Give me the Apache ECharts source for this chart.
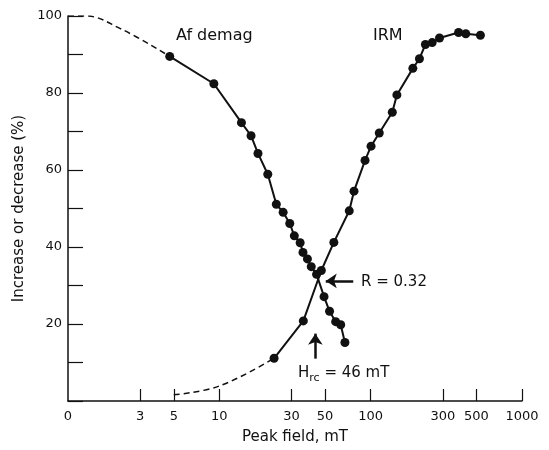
<!DOCTYPE html>
<html>
<head>
<meta charset="utf-8">
<script src="https://cdn.jsdelivr.net/npm/echarts@6/dist/echarts.min.js"></script>
<style>
  html, body { margin: 0; padding: 0; background: #fff; }
  #chart { width: 549px; height: 450px; }
</style>
</head>
<body>
<div id="chart"></div>
<script>
  // Af demag (decreasing curve), field in mT, remaining %
  var afField = [4.7, 9.2, 14.0, 16.2, 18.0, 20.9, 23.8, 26.4, 29.2, 31.3, 34.2, 35.7, 38.2, 40.5, 43.9, 49.2, 53.5, 58.7, 63.4, 67.6];
  var afValue = [89.5, 82.4, 72.3, 68.9, 64.3, 58.9, 51.1, 49.0, 46.1, 42.9, 41.1, 38.6, 36.9, 34.9, 32.9, 27.1, 23.3, 20.6, 19.8, 15.2];
  // dashed extrapolation of the Af curve
  var afDashField = [1, 1.3, 2.2, 4.7];
  var afDashValue = [100, 100, 96.8, 89.5];

  // IRM acquisition (increasing curve)
  var irmField = [23.0, 35.9, 47.2, 57.1, 72.2, 77.6, 91.8, 100.6, 114, 139, 149, 190, 210, 230, 255, 285, 381, 425, 531];
  var irmValue = [11.1, 20.8, 33.9, 41.2, 49.4, 54.5, 62.5, 66.2, 69.6, 75.0, 79.5, 86.4, 88.9, 92.6, 93.1, 94.3, 95.7, 95.4, 95.0];
  var irmDashField = [5, 10, 23.0];
  var irmDashValue = [1.6, 3.9, 11.1];

  var xTicks = [3, 5, 10, 30, 50, 100, 300, 500, 1000];
  var xLabels = [1, 3, 5, 10, 30, 50, 100, 300, 500, 1000];

  // annotation arrows (data coords)
  var rArrow = [[76.7, 31.2], [50.5, 31.2]];
  var hArrow = [[43.1, 11.0], [43.1, 17.5]];

  function pairs(xs, ys) {
    return xs.map(function (x, i) { return [x, ys[i]]; });
  }

  var font = "DejaVu Sans";
  var chart = echarts.init(document.getElementById("chart"));

  chart.setOption({
    animation: false,
    backgroundColor: "#fff",
    grid: { left: 68, right: 27, top: 16, bottom: 46 },
    xAxis: {
      type: "log",
      logBase: 10,
      min: 1,
      max: 1000,
      name: "Peak field, mT",
      nameLocation: "middle",
      nameGap: 29,
      nameTextStyle: { fontFamily: font, fontSize: 15, color: "#111" },
      axisLine: { show: true, lineStyle: { color: "#111", width: 1.5 } },
      axisTick: { show: true, inside: true, length: 12, customValues: xTicks, lineStyle: { color: "#111", width: 1.2 } },
      axisLabel: {
        customValues: xLabels,
        margin: 9,
        fontFamily: font,
        fontSize: 13,
        color: "#111",
        formatter: function (v) { return v === 1 ? "0" : String(v); }
      },
      splitLine: { show: false },
      minorTick: { show: false }
    },
    yAxis: {
      type: "value",
      min: 0,
      max: 100,
      interval: 10,
      name: "Increase or decrease (%)",
      nameLocation: "middle",
      nameGap: 40,
      nameTextStyle: { fontFamily: font, fontSize: 15, color: "#111" },
      axisLine: { show: true, lineStyle: { color: "#111", width: 1.5 } },
      axisTick: { show: true, inside: true, length: 15, lineStyle: { color: "#111", width: 1.2 } },
      axisLabel: {
        margin: 6,
        fontFamily: font,
        fontSize: 13,
        color: "#111",
        formatter: function (v) { return v > 0 && v % 20 === 0 ? String(v) : ""; }
      },
      splitLine: { show: false }
    },
    series: [
      {
        name: "Af demag dashed",
        type: "line",
        data: pairs(afDashField, afDashValue),
        smooth: 0.4,
        symbol: "none",
        lineStyle: { color: "#111", width: 1.5, type: [6, 4] },
        silent: true
      },
      {
        name: "Af demag",
        type: "line",
        data: pairs(afField, afValue),
        symbol: "circle",
        symbolSize: 9,
        itemStyle: { color: "#111" },
        lineStyle: { color: "#111", width: 2 },
        markLine: {
          silent: true,
          symbol: ["none", "arrow"],
          symbolSize: 11,
          label: { show: false },
          lineStyle: { color: "#111", width: 2.5, type: "solid" },
          data: [
            [{ coord: rArrow[0] }, { coord: rArrow[1] }],
            [{ coord: hArrow[0] }, { coord: hArrow[1] }]
          ]
        }
      },
      {
        name: "IRM dashed",
        type: "line",
        data: pairs(irmDashField, irmDashValue),
        smooth: 0.4,
        symbol: "none",
        lineStyle: { color: "#111", width: 1.5, type: [6, 4] },
        silent: true
      },
      {
        name: "IRM",
        type: "line",
        data: pairs(irmField, irmValue),
        symbol: "circle",
        symbolSize: 9,
        itemStyle: { color: "#111" },
        lineStyle: { color: "#111", width: 2 }
      }
    ],
    graphic: [
      { type: "text", left: 176, top: 28, style: { text: "Af demag", font: "16px " + font, fill: "#111" } },
      { type: "text", left: 373, top: 28, style: { text: "IRM", font: "16px " + font, fill: "#111" } },
      { type: "text", left: 361, top: 275, style: { text: "R = 0.32", font: "15px " + font, fill: "#111" } },
      {
        type: "text", left: 298, top: 366,
        style: {
          text: "{a|H}{b|rc}{a| = 46 mT}",
          fill: "#111",
          rich: {
            a: { fontFamily: font, fontSize: 15, fill: "#111", verticalAlign: "bottom" },
            b: { fontFamily: font, fontSize: 11, fill: "#111", verticalAlign: "bottom", padding: [0, 0, -3, 0] }
          }
        }
      }
    ]
  });
</script>
</body>
</html>
